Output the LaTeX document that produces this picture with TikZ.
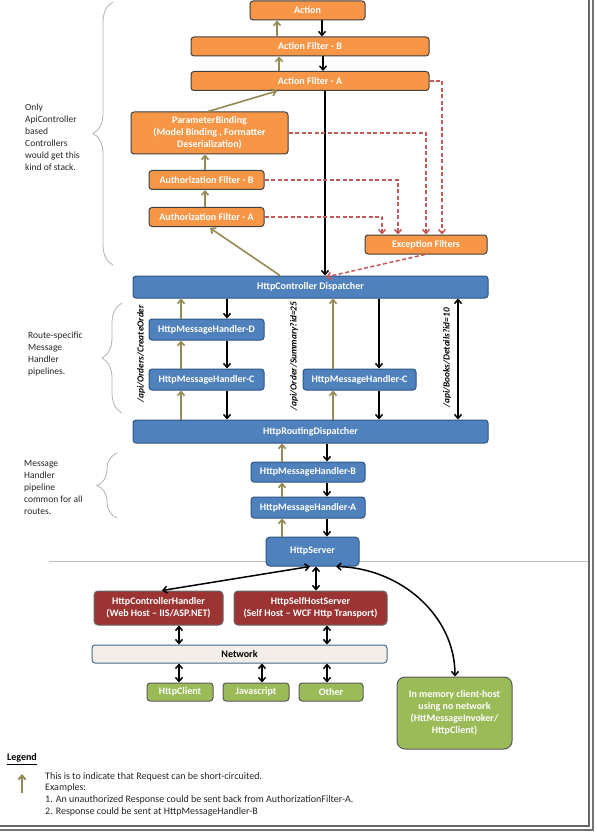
\documentclass[tikz,border=0pt]{standalone}
\usepackage{fontspec}
\setmainfont{Carlito}
\usetikzlibrary{arrows.meta,decorations.pathreplacing,calc}
\definecolor{ora}{HTML}{F79646}
\definecolor{blu}{HTML}{4F81BD}
\definecolor{bluD}{HTML}{2F5383}
\definecolor{redF}{HTML}{9B3432}
\definecolor{grn}{HTML}{9BBB59}
\definecolor{netF}{HTML}{F3EEE8}
\definecolor{netD}{HTML}{4A6A8A}
\definecolor{oliv}{HTML}{948A54}
\definecolor{dred}{HTML}{C45A58}
\begin{document}
\begin{tikzpicture}[x=1pt,y=-1pt,
  box/.style={rounded corners=3pt, line width=1pt, text=white, font=\bfseries\fontsize{10}{12}\selectfont, inner sep=0pt, align=center},
  sz/.style 2 args={minimum width=#1, minimum height=#2},
  obox/.style={box, fill=ora, draw=black!75},
  bbox/.style={box, fill=blu, draw=bluD},
  rbox/.style={box, fill=redF, draw=black!60},
  gbox/.style={box, fill=grn, draw=black!65},
  nbox/.style={box, fill=netF, draw=netD, text=black},
  blk/.style={line width=1.5pt, -{Straight Barb[length=4pt,width=7pt]}},
  dbl/.style={line width=1.5pt, {Straight Barb[length=4pt,width=7pt]}-{Straight Barb[length=4pt,width=7pt]}},
  olv/.style={draw=oliv, line width=1.6pt, -{Straight Barb[length=4pt,width=7pt]}},
  dsh/.style={draw=dred, line width=1.5pt, dash pattern=on 4pt off 2.5pt, -{Straight Barb[length=4pt,width=7pt]}},
  brc/.style={draw=gray!60, line width=0.8pt, decorate, decoration={brace, amplitude=20pt}},
  txt/.style={font=\fontsize{9.5}{12}\selectfont, align=left, inner sep=0pt, anchor=north west, text=black!85},
  rot/.style={rotate=90, inner sep=0pt, font=\bfseries\itshape\fontsize{9.3}{10}\selectfont}
]
\useasboundingbox (0,0) rectangle (597,834);
\fill[white] (0,0) rectangle (597,834);

% separator line
\draw[gray!50, line width=0.8pt] (49,561) -- (589,561);

% top stack
\node[obox, sz={115}{19}] (act) at (307.5,10.5) {Action};
\node[obox, sz={238}{19}] (afb) at (310,46.5) {Action Filter - B};
\node[obox, sz={238}{19}] (afa) at (310,81) {Action Filter - A};
\node[obox, sz={157}{42}] (pb) at (209.5,133) {ParameterBinding\\(Model Binding , Formatter\\Deserialization)};
\node[obox, sz={115}{19}] (aub) at (206.5,180) {Authorization Filter - B};
\node[obox, sz={115}{19}] (aua) at (206.5,217) {Authorization Filter - A};
\node[obox, sz={122}{19}] (ef) at (426,244.5) {Exception Filters};
\node[bbox, sz={355}{22}] (hcd) at (310.5,287) {HttpController Dispatcher};

% middle
\node[bbox, sz={115}{21}] (hd) at (206.5,329.5) {HttpMessageHandler-D};
\node[bbox, sz={115}{21}] (hc1) at (206.5,379.5) {HttpMessageHandler-C};
\node[bbox, sz={113}{21}] (hc2) at (359.5,379.5) {HttpMessageHandler-C};
\node[bbox, sz={355}{23}] (hrd) at (310.5,431.5) {HttpRoutingDispatcher};

% lower
\node[bbox, sz={114}{20}] (hb) at (308,472) {HttpMessageHandler-B};
\node[bbox, sz={114}{21}] (ha) at (308,507.5) {HttpMessageHandler-A};
\node[bbox, sz={93}{29}, rounded corners=4pt] (hs) at (312.5,551.5) {HttpServer};

% hosts
\node[rbox, sz={129}{34}, rounded corners=4pt] (hch) at (158.5,608) {HttpControllerHandler\\(Web Host -- IIS/ASP.NET)};
\node[rbox, sz={153}{34}, rounded corners=4pt] (hsh) at (310.5,608) {HttpSelfHostServer\\(Self Host -- WCF Http Transport)};
\node[nbox, sz={295}{18}] (net) at (239.5,654) {Network};
\node[gbox, sz={66}{18}] (hcl) at (180,692) {HttpClient};
\node[gbox, sz={66}{18}] (js) at (256,692) {Javascript};
\node[gbox, sz={64}{18}] (oth) at (331,692) {Other};
\node[gbox, sz={115}{72}, rounded corners=8pt] (mem) at (454.5,713) {In memory client-host\\using no network\\(HttMessageInvoker/\\HttpClient)};

% black request path (top)
\draw[blk] (322,0 |- act.south) -- (322,0 |- afb.north);
\draw[blk] (323,0 |- afb.south) -- (323,0 |- afa.north);
\draw[blk] (325,0 |- afa.south) -- (325,0 |- hcd.north);

% olive short-circuit (top)
\draw[olv] (277,0 |- afb.north) -- (277,0 |- act.south);
\draw[olv] (279,0 |- afa.north) -- (279,0 |- afb.south);
\draw[olv] (208,0 |- pb.north) -- (277,0 |- afa.south);
\draw[olv] (205,0 |- aub.north) -- (205,0 |- pb.south);
\draw[olv] (205,0 |- aua.north) -- (205,0 |- aub.south);
\draw[olv] (280,0 |- hcd.north) -- (210,228);

% dashed to exception filters
\draw[dsh] (pb.east) -- (426,133) -- (426,0 |- ef.north);
\draw[dsh] (aub.east) -- (398,180) -- (398,0 |- ef.north);
\draw[dsh] (aua.east) -- (382,217) -- (382,0 |- ef.north);
\draw[dsh] (afa.east) -- (442,81) -- (442,0 |- ef.north);
\draw[dsh] (425,0 |- ef.south) -- (326,277);

% middle arrows
\draw[olv] (181,0 |- hd.north) -- (181,0 |- hcd.south);
\draw[olv] (181,0 |- hc1.north) -- (181,0 |- hd.south);
\draw[olv] (181,0 |- hrd.north) -- (181,0 |- hc1.south);
\draw[blk] (227,0 |- hcd.south) -- (227,0 |- hd.north);
\draw[blk] (227,0 |- hd.south) -- (227,0 |- hc1.north);
\draw[blk] (227,0 |- hc1.south) -- (227,0 |- hrd.north);
\draw[olv] (333,0 |- hc2.north) -- (333,0 |- hcd.south);
\draw[olv] (333,0 |- hrd.north) -- (333,0 |- hc2.south);
\draw[blk] (379,0 |- hcd.south) -- (379,0 |- hc2.north);
\draw[blk] (379,0 |- hc2.south) -- (379,0 |- hrd.north);
\draw[dbl] (458,0 |- hcd.south) -- (458,0 |- hrd.north);

\node[rot] (l1) at (141,354) {/api/Orders/CreateOrder};
\node[rot] (l2) at (294,356) {/api/Order/Summary?id=25};
\node[rot] (l3) at (447,358) {/api/Books/Details?id=10};

% lower arrows
\draw[olv] (282,0 |- hb.north) -- (282,0 |- hrd.south);
\draw[olv] (282,0 |- ha.north) -- (282,0 |- hb.south);
\draw[olv] (282,0 |- hs.north) -- (282,0 |- ha.south);
\draw[blk] (327,0 |- hrd.south) -- (327,0 |- hb.north);
\draw[blk] (327,0 |- hb.south) -- (327,0 |- ha.north);
\draw[blk] (327,0 |- ha.south) -- (327,0 |- hs.north);

% host arrows
\draw[dbl] (310,0 |- hs.south) -- (162,0 |- hch.north);
\draw[dbl] (316,0 |- hs.south) -- (316,0 |- hsh.north);
\draw[dbl] (336,0 |- hs.south) .. controls (400,568) and (455,615) .. (455,0 |- mem.north);
\draw[dbl] (179,0 |- hch.south) -- (179,0 |- net.north);
\draw[dbl] (327,0 |- hsh.south) -- (327,0 |- net.north);
\draw[dbl] (179,0 |- net.south) -- (179,0 |- hcl.north);
\draw[dbl] (262,0 |- net.south) -- (262,0 |- js.north);
\draw[dbl] (327,0 |- net.south) -- (327,0 |- oth.north);

% braces and notes
\draw[brc] (113,265) -- (113,2);
\draw[brc] (122,413) -- (122,303);
\draw[brc] (117,518) -- (117,453);
\node[txt] (n1) at (25,104) {Only\\ApiController\\based\\Controllers\\would get this\\kind of stack.};
\node[txt] (n2) at (28,332) {Route-specific\\Message\\Handler\\pipelines.};
\node[txt] (n3) at (24,460) {Message\\Handler\\pipeline\\common for all\\routes.};

% legend
\node[font=\bfseries\fontsize{10}{12}\selectfont, anchor=west, inner sep=0pt] (leg) at (7,759) {\underline{Legend}};
\coordinate (la1) at (22,793);
\coordinate (la2) at (22,774);
\draw[olv, line width=2pt] (la1) -- (la2);
\node[txt, font=\fontsize{10}{11.7}\selectfont] (lt) at (45,772) {This is to indicate that Request can be short-circuited.\\Examples:\\1. An unauthorized Response could be sent back from AuthorizationFilter-A.\\2. Response could be sent at HttpMessageHandler-B};

% frame
\draw[black!60, line width=1.3pt] (589,0) -- (589,826) -- (0,826);
\draw[black!55, line width=1.3pt] (593,0) -- (593,830) -- (0,830);
\end{tikzpicture}
\end{document}
